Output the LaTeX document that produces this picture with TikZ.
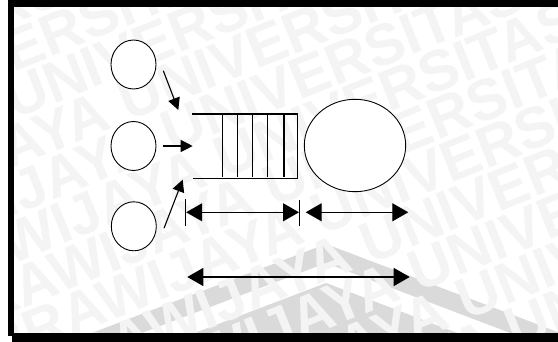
\documentclass[tikz,border=0pt]{standalone}
\usepackage{fontspec}
\setmainfont{Liberation Sans}
\usetikzlibrary{arrows.meta,shapes.geometric}
\definecolor{wm}{gray}{0.955}
\definecolor{chev}{gray}{0.855}
\begin{document}
\begin{tikzpicture}[x=1pt,y=-1pt,
  circ/.style={draw, ellipse, fill=white, line width=0.9pt, inner sep=0pt, minimum width=45pt, minimum height=49pt},
  qline/.style={line width=1.4pt},
  arr/.style={line width=1.1pt, -{Triangle[length=12pt,width=12pt]}},
  dimarr/.style={line width=1.1pt, {Triangle[length=16pt,width=18pt]}-{Triangle[length=16pt,width=18pt]}},
  ticks/.style={line width=1.2pt},
  wmtext/.style={text=wm, inner sep=0pt, anchor=base west, rotate=22, font=\fontsize{58}{58}\selectfont\bfseries}]
\useasboundingbox (0,0) rectangle (558,342);
\fill[white] (0,0) rectangle (558,342);
% background watermark
\begin{scope}
  \clip (13.5,7) rectangle (558,333);
  \fill[chev] (68,342) -- (326,244) -- (584,342) -- (534,342) -- (326,263) -- (118,342) -- cycle;
  \fill[chev] (171,342) -- (326,283) -- (481,342) -- cycle;
  \foreach \k/\o in {-1/3.4, 0/2.4, 1/0, 2/10.9, 3/10.1, 4/9.1, 5/8.2, 6/7.3, 7/6.4, 8/5.5, 9/4.6, 10/3.7} {
    \pgfmathsetmacro\ox{14-\o*58*cos(22)}
    \pgfmathsetmacro\oy{72+48*\k+\o*58*sin(22)}
    \node[wmtext] (wm\k) at (\ox,\oy) {UNIVERSITAS BRAWIJAYA UNIVERSITAS BRAWIJAYA};
  }
\end{scope}
% frame
\fill[black] (8,0) rectangle (558,7);
\fill[black] (8,0) rectangle (13.5,336);
\fill[black] (12,333) rectangle (558,342);
% sources and server
\node[circ] (c1) at (133.5,64.5) {};
\node[circ] (c2) at (133.5,146) {};
\node[circ] (c3) at (133.8,226.3) {};
\node[circ, minimum width=101.4pt, minimum height=92.4pt] (srv) at (355,145.5) {};
% queue
\draw[qline] (192,114) -- (297.3,114) -- (297.3,178.7) -- (193,178.7);
\foreach \x in {222.7,237.7,252.7,267.7,284} \draw[qline] (\x,114) -- (\x,177.5);
% arrivals
\coordinate (a1s) at (163.3,70.7); \coordinate (a1e) at (178.3,110);
\coordinate (a2s) at (162.7,146);  \coordinate (a2e) at (192.7,146);
\coordinate (a3s) at (164,228.3);  \coordinate (a3e) at (182.7,179.7);
\draw[arr] (a1s) -- (a1e);
\draw[arr] (a2s) -- (a2e);
\draw[arr] (a3s) -- (a3e);
% dimensions
\draw[ticks] (185.5,199.5) -- (185.5,226);
\draw[ticks] (299.7,200) -- (299.7,226);
\coordinate (d1a) at (186.2,212.3); \coordinate (d1b) at (299,212.3);
\coordinate (d2a) at (305.7,212.3); \coordinate (d2b) at (408.3,212.3);
\coordinate (d3a) at (187.3,277);   \coordinate (d3b) at (409.7,277);
\draw[dimarr] (d1a) -- (d1b);
\draw[dimarr] (d2a) -- (d2b);
\draw[dimarr] (d3a) -- (d3b);
\end{tikzpicture}
\end{document}
